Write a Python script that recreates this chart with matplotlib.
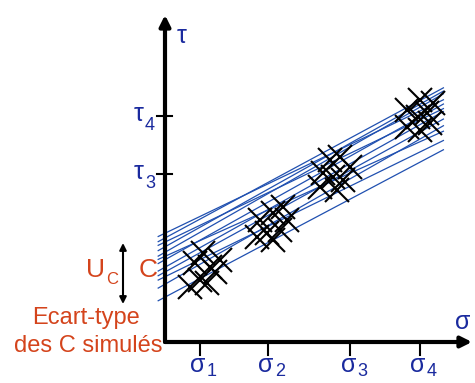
import numpy as np
import matplotlib.pyplot as plt

plt.rcParams['font.family'] = ['Liberation Sans', 'DejaVu Sans']

# positions of the four stress levels on the axes
sigma = [0.51, 1.51, 2.72, 3.74]
sigma_labels = ['1', '2', '3', '4']
tau = [2.47, 3.32]
tau_labels = ['3', '4']

# simulated regression lines: intercept C and slope
C_sim = [1.60, 1.53, 1.47, 1.40, 1.32, 1.26, 1.21, 1.10, 1.03, 0.96, 0.85, 0.66]
slope_sim = [0.48, 0.54, 0.48, 0.56, 0.57, 0.45, 0.56, 0.56, 0.55, 0.49, 0.57, 0.53]

# simulated test points around each sigma
pts_x = [
    [0.44, 0.56, 0.66, 0.51, 0.37, 0.74, 0.62, 0.81],
    [1.40, 1.59, 1.74, 1.50, 1.69, 1.35, 1.79, 1.59],
    [2.43, 2.57, 2.72, 2.32, 2.47, 2.62, 2.28, 2.53],
    [3.75, 3.94, 3.56, 3.71, 3.85, 3.56, 3.75, 3.90],
]
pts_y = [
    [1.16, 1.31, 1.10, 0.91, 0.81, 1.03, 0.87, 1.21],
    [1.79, 1.90, 1.99, 1.60, 1.65, 1.54, 1.79, 1.50],
    [2.68, 2.72, 2.57, 2.49, 2.43, 2.38, 2.28, 2.24],
    [3.56, 3.51, 3.41, 3.31, 3.37, 3.16, 3.12, 3.22],
]

blue = '#1a2a9e'
line_blue = '#2050b0'
red = '#d4441c'

fig = plt.figure(figsize=(4.75, 3.83), dpi=100)
ax = fig.add_axes([165 / 475, 41 / 383, 307 / 475, 327 / 383])
ax.set_xlim(0, 4.51)
ax.set_ylim(0, 4.81)
ax.axis('off')

xs = np.array([-0.1, 4.09])
for c, s in zip(C_sim, slope_sim):
    ax.plot(xs, c + s * xs, color=line_blue, lw=0.9, clip_on=False, zorder=2)

for px, py in zip(pts_x, pts_y):
    ax.plot(px, py, 'x', color='black', ms=17, mew=1.5, zorder=3)

# axes with arrows
ax.annotate('', xy=(1.0, 0), xytext=(0, 0), xycoords='axes fraction',
            arrowprops=dict(arrowstyle='-|>', lw=3, color='black',
                            mutation_scale=16, shrinkA=0, shrinkB=0))
ax.annotate('', xy=(0, 1.0), xytext=(0, 0), xycoords='axes fraction',
            arrowprops=dict(arrowstyle='-|>', lw=3, color='black',
                            mutation_scale=16, shrinkA=0, shrinkB=0))

trx = ax.get_xaxis_transform()
try_ = ax.get_yaxis_transform()
for s, lab in zip(sigma, sigma_labels):
    ax.plot([s, s], [0, -0.04], color='black', lw=1.5, transform=trx, clip_on=False)
    ax.annotate('σ', xy=(s, 0), xycoords=trx, xytext=(6, -23), textcoords='offset pixels',
                ha='right', va='center', fontsize=18, color=blue)
    ax.annotate(lab, xy=(s, 0), xycoords=trx, xytext=(7, -30), textcoords='offset pixels',
                ha='left', va='center', fontsize=13, color=blue)

for t, lab in zip(tau, tau_labels):
    ax.plot([-0.025, 0.022], [t, t], color='black', lw=1.5, transform=try_, clip_on=False)
    ax.annotate('τ', xy=(0, t), xycoords=try_, xytext=(-21, 2), textcoords='offset pixels',
                ha='right', va='center', fontsize=18, color=blue)
    ax.annotate(lab, xy=(0, t), xycoords=try_, xytext=(-20, -9), textcoords='offset pixels',
                ha='left', va='center', fontsize=13, color=blue)

fig.text(182, 347, 'τ', transform=None, ha='center', va='center', fontsize=18, color=blue)
fig.text(463, 61, 'σ', transform=None, ha='center', va='center', fontsize=18, color=blue)

# uncertainty on C
fig.text(148, 113, 'C', transform=None, ha='center', va='center', fontsize=19, color=red)
fig.text(96, 113, 'U', transform=None, ha='center', va='center', fontsize=19, color=red)
fig.text(112, 104, 'C', transform=None, ha='center', va='center', fontsize=12, color=red)
ax.annotate('', xy=(123, 140), xytext=(123, 79), xycoords='figure pixels',
            arrowprops=dict(arrowstyle='<|-|>', lw=1.5, color='black',
                            mutation_scale=10, shrinkA=0, shrinkB=0))
fig.text(86, 65, 'Ecart-type', transform=None, ha='center', va='center', fontsize=17, color=red)
fig.text(88, 37, 'des C simulés', transform=None, ha='center', va='center', fontsize=17, color=red)

fig.savefig('out.png', dpi=100)
